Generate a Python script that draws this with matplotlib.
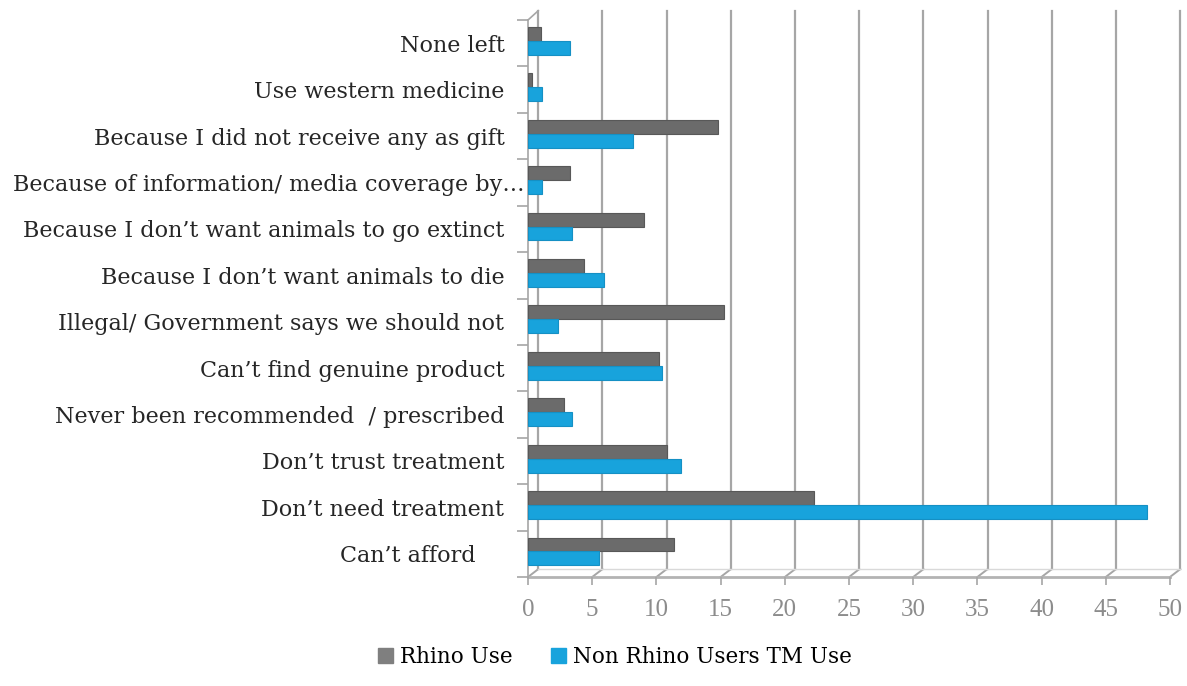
import matplotlib.pyplot as plt
import matplotlib.transforms as mtransforms
from matplotlib.patches import Patch

# data, bottom to top
reasons = ['Can’t afford    ', 'Don’t need treatment', 'Don’t trust treatment',
           'Never been recommended  / prescribed', 'Can’t find genuine product',
           'Illegal/ Government says we should not', 'Because I don’t want animals to die',
           'Because I don’t want animals to go extinct',
           'Because of information/ media coverage by…',
           'Because I did not receive any as gift', 'Use western medicine', 'None left']
rhino_use = [11.4, 22.3, 10.8, 2.8, 10.2, 15.3, 4.4, 9.0, 3.3, 14.8, 0.3, 1.0]
non_rhino = [5.5, 48.2, 11.9, 3.4, 10.4, 2.3, 5.9, 3.4, 1.1, 8.2, 1.1, 3.3]
xticks = list(range(0, 55, 5))

gray = '#6b6b6b'
blue = '#18a3dc'
grid_c = '#a6a6a6'

plt.rcParams['font.family'] = ['DejaVu Serif']

fig = plt.figure(figsize=(11.87, 6.86), dpi=100)
ax = fig.add_axes([528/1187, 1-577/686, (1170-528)/1187, (577-20)/686])

n = len(reasons)
y = list(range(n))
h = 0.3
up = 0.05
dx, dy = 0.8, 0.17

ax.set_xlim(0, 50)
ax.set_ylim(-0.5, n-0.5)

# back wall gridlines with 3d offset
for xv in xticks:
    ax.plot([xv+dx, xv+dx], [-0.5+dy, n-0.5+0.2], color=grid_c, lw=1.6, clip_on=False, zorder=1)
    ax.plot([xv, xv+dx], [-0.5, -0.5+dy], color=grid_c, lw=1.4, clip_on=False, zorder=1)
ax.plot([0, dx], [n-0.5, n-0.5+0.2], color=grid_c, lw=1.2, clip_on=False, zorder=1)
ax.plot([0, 50], [-0.5, -0.5], color='#b3b3b3', lw=2, clip_on=False, zorder=1)
ax.plot([dx, 50+dx], [-0.5+dy, -0.5+dy], color='#d9d9d9', lw=1, clip_on=False, zorder=1)

ax.barh([v+h/2+up for v in y], rhino_use, height=h, color=gray, edgecolor='#585858', lw=0.8, zorder=3)
ax.barh([v-h/2+up for v in y], non_rhino, height=h, color=blue, edgecolor='#1590c4', lw=0.8, zorder=4)

for s in ['top', 'right', 'bottom']:
    ax.spines[s].set_visible(False)
ax.spines['left'].set_color(grid_c)
ax.spines['left'].set_linewidth(1.2)

ax.set_yticks([v-0.5 for v in range(n+1)])
ax.set_yticklabels([])
ax.set_yticks(y, minor=True)
ax.set_yticklabels(reasons, minor=True, fontsize=16, color='#262626')
ax.tick_params(axis='y', which='major', length=8, color=grid_c, width=1.2)
ax.tick_params(axis='y', which='minor', length=0, pad=17)

# the truncated label runs past the others in the original
long_lbl = ax.get_yticklabels(minor=True)[8]
long_lbl.set_transform(long_lbl.get_transform() +
                       mtransforms.ScaledTranslation(0.2, 0, fig.dpi_scale_trans))

ax.set_xticks(xticks)
ax.set_xticklabels([str(v) for v in xticks], fontsize=18, color='#8c8c8c',
                   family='Liberation Serif')
ax.tick_params(axis='x', length=6, color=grid_c, width=1.2, pad=10)

handles = [Patch(color='#7f7f7f', label='Rhino Use'),
           Patch(color=blue, label='Non Rhino Users TM Use')]
fig.legend(handles=handles, loc='center', bbox_to_anchor=(0.518, 0.042), ncol=2,
           frameon=False, fontsize=15.5, handlelength=0.7, handleheight=0.7,
           handletextpad=0.3, columnspacing=1.8)

fig.savefig('out.png', dpi=100)
